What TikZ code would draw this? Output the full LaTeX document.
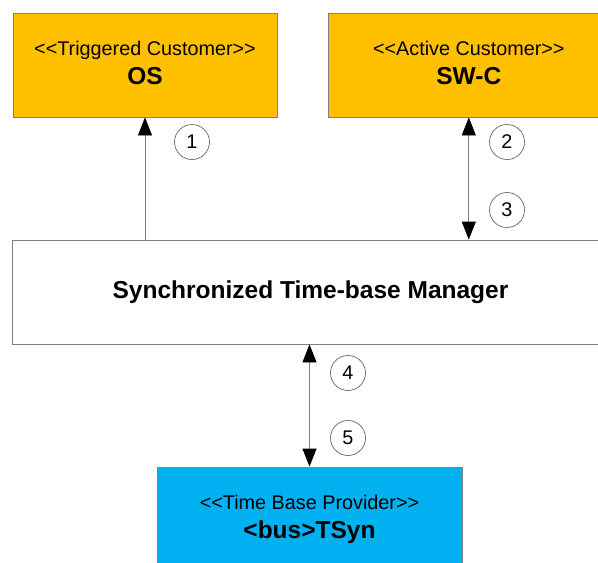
\documentclass[tikz,border=0pt]{standalone}
\usepackage{fontspec}
\setmainfont{Liberation Sans}
\usepackage{xcolor}
\usetikzlibrary{arrows.meta,positioning}
\definecolor{custfill}{HTML}{FFC000}
\definecolor{provfill}{HTML}{00B0F0}
\newcommand{\bname}[1]{{\fontsize{24.5}{29}\selectfont\bfseries #1}}

\begin{document}
\begin{tikzpicture}[x=1pt,y=-1pt,>={Triangle[length=18pt,width=14pt,color=black]},node distance=51pt]
\tikzstyle{every node}=[font=\fontsize{19.8}{29}\selectfont]
\tikzstyle{block} = [draw = gray, line width=0.8pt, align=center, minimum height=104pt, inner sep=0pt]
\tikzstyle{customer} = [block, fill = custfill]
\tikzstyle{num} = [draw = gray!80!black, line width=0.7pt, circle, minimum size=35pt, inner sep=0pt]
\tikzstyle{link} = [draw = gray, line width=0.8pt]
\clip (0,0) rectangle (598,563);

\node[customer, minimum width=264pt] (os) at (145,65)  {<{}<Triggered Customer>{}>\\ \bname{OS}\rule[-4pt]{0pt}{0pt}};
\node[customer, minimum width=280pt] (swc) [right=of os] {<{}<Active Customer>{}>\\ \bname{SW-C}\rule[-4pt]{0pt}{0pt}};
\node[block, minimum width=597pt]    (tbm) at (310.5,292) {\bname{Synchronized Time-base Manager}};
\node[block, fill = provfill, minimum width=305pt] (tsyn) at (309.5,519) {<{}<Time Base Provider>{}>\\ \bname{<bus>TSyn}};

\node[num] (n1) at (192,142) {1};
\node[num] (n2) at (507,142) {2};
\node[num] (n3) at (507,210) {3};
\node[num] (n4) at (348,373) {4};
\node[num] (n5) at (348,438) {5};

\path[link]
(tbm.north -| os)   edge[->]  (os)
(swc)               edge[<->] (tbm.north -| swc)
(tbm.south -| tsyn) edge[<->] (tsyn);
\end{tikzpicture}
\end{document}
